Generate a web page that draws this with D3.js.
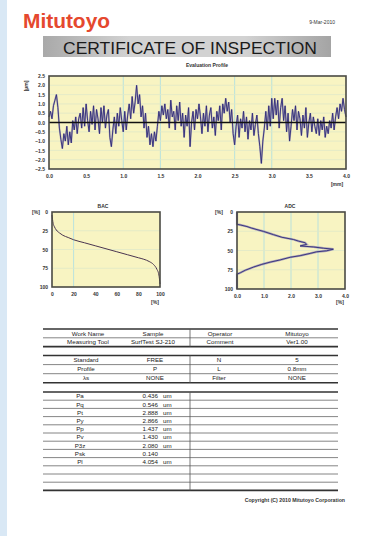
<!DOCTYPE html>
<html>
<head>
<meta charset="utf-8">
<script src="https://cdn.jsdelivr.net/npm/d3@7"></script>
<style>
  body { margin: 0; background: #fff; }
  svg { display: block; font-family: "Liberation Sans", Arial, sans-serif; }
</style>
</head>
<body>
<div id="chart"></div>
<script>
// ---- data ----
// evaluation profile heights [um], evenly spaced over 0..4 mm
const profile = [
  0.3, 0.6, 0.2, 0.9, 1.2, 1.5, 0.8, -0.3, -0.9, -1.4, -0.6,
  -1.0, -0.2, -1.2, -0.5, -1.1, 0.1, -0.4, 0.3, -0.6, 0.2,
  0.5, -0.3, 0.8, -0.2, 1.0, 0.1, -0.5, 0.6, -0.1, 0.9,
  -0.4, 0.7, 0.2, -0.6, 0.8, 0.0, 0.9, -0.3, 0.4, 0.7,
  -0.8, -1.3, -0.4, 0.3, -0.6, 0.5, -0.2, 0.8, 0.1, -0.5,
  0.6, -0.4, 0.4, 1.0, 0.2, 1.4, 0.5, 1.1, 2.0, 1.0,
  1.5, 0.3, 0.9, -0.3, 0.5, -0.8, -0.2, -1.2, -0.6, -1.3,
  -0.5, -1.0, -0.2, 0.6, 0.1, 0.9, 0.4, 1.0, 0.2, 0.7,
  -0.3, 1.2, 0.3, 0.6, -0.4, 0.9, 0.1, 1.1, -0.2, 0.5,
  -0.8, 0.4, -0.2, 0.8, -1.3, 0.0, 0.6, -0.4, 0.7, 0.2,
  1.0, 0.3, -0.6, 0.5, -0.2, 0.9, -0.5, 0.4, 0.8, -0.3,
  0.3, -0.7, 0.6, 0.1, 0.9, -0.4, 1.0, 0.5, 1.3, 0.6,
  1.1, 0.0, 0.7, -0.6, -1.2, -0.2, 0.4, -0.8, 0.2, -0.3,
  0.6, -0.5, 0.3, -0.9, 0.1, -0.4, 0.5, -0.7, -0.1, 0.4,
  -0.6, -1.3, -2.2, -1.0, -0.3, 0.6, -0.4, 0.9, -0.2, 1.3,
  0.2, 1.3, 0.4, 1.2, -0.3, 0.8, 1.3, 0.1, 0.9, -0.5,
  0.5, -1.0, -0.2, 0.7, 0.1, 0.9, -0.4, 0.6, 0.2, -0.7,
  0.4, -0.3, 0.8, -0.8, 0.0, 0.5, -0.5, 0.3, -0.2, -0.6,
  0.2, -0.7, 0.1, -0.4, 0.3, -0.8, -0.2, -0.6, 0.1, -0.3,
  0.5, -0.4, 0.3, 0.8, 0.2, 1.0, 0.6, 1.3, 0.7, 0.3
];
const profileXTicks = [0, 0.5, 1, 1.5, 2, 2.5, 3, 3.5, 4];
const profileYTicks = [2.5, 2, 1.5, 1, 0.5, 0, -0.5, -1, -1.5, -2, -2.5];

// bearing area curve (x: bearing ratio %, y: depth %)
const bacX = [0, 0.5, 1, 2, 4, 7, 10, 15, 20, 30, 40, 50, 60, 70, 80, 85, 90, 94, 97, 99, 100];
const bacY = [4, 10, 15, 19, 24, 28, 31, 34, 37, 41, 45, 49, 53, 57, 61, 63, 66, 70, 76, 84, 96];
const bacXTicks = [0, 20, 40, 60, 80, 100];
const bacYTicks = [0, 25, 50, 75, 100];

// amplitude distribution curve (x: density %, y: depth %)
const adcY = [0, 16, 16.8, 18.9, 21, 25.2, 29.4, 32.8, 35.7, 37.8, 39.9, 42, 44.1, 45.4, 47, 48.3, 50.4, 51.7, 53.8, 56.7, 58.8, 62.2, 65.1, 68, 71.4, 75.6, 79, 80.7, 100];
const adcX = [0, 0, 0.12, 0.37, 0.55, 0.98, 1.35, 1.66, 2.09, 2.28, 2.52, 2.58, 2.34, 2.83, 3.2, 3.57, 3.32, 2.95, 2.71, 2.34, 1.97, 1.6, 1.23, 0.92, 0.62, 0.31, 0.12, 0, 0];
const adcXTicks = [0, 1, 2, 3, 4];
const adcYTicks = [0, 25, 50, 75, 100];

// table contents
const infoRows = [
  ["Work Name", "Sample", "Operator", "Mitutoyo"],
  ["Measuring Tool", "SurfTest SJ-210", "Comment", "Ver1.00"]
];
const condRows = [
  ["Standard", "FREE", "N", "5"],
  ["Profile", "P", "L", "0.8mm"],
  ["λs", "NONE", "Filter", "NONE"]
];
const paramNames = ["Pa", "Pq", "Pt", "Py", "Pp", "Pv", "P3z", "Psk", "Pl"];
const paramValues = ["0.436", "0.546", "2.888", "2.866", "1.437", "1.430", "2.080", "0.140", "4.054"];
const paramUnits = ["um", "um", "um", "um", "um", "um", "um", "", "um"];

// ---- drawing ----
const W = 375, H = 536;
const svg = d3.select('#chart').append('svg')
  .attr('width', W)
  .attr('height', H);

const defs = svg.append('defs');
const grad = defs.append('linearGradient').attr('id', 'bar');
grad.append('stop').attr('offset', '0%').attr('stop-color', '#a9a9a9');
grad.append('stop').attr('offset', '30%').attr('stop-color', '#d2d2d2');
grad.append('stop').attr('offset', '70%').attr('stop-color', '#d2d2d2');
grad.append('stop').attr('offset', '100%').attr('stop-color', '#a4a4a4');

// page edge (photo background)
svg.append('rect').attr('x', 0).attr('y', 0).attr('width', 7).attr('height', H).attr('fill', '#d9e8f5');

// header
svg.append('text')
  .attr('x', 23).attr('y', 28)
  .attr('font-size', 20).attr('font-weight', 'bold')
  .attr('fill', '#e5482e')
  .attr('textLength', 87).attr('lengthAdjust', 'spacingAndGlyphs')
  .text('Mitutoyo');

svg.append('text')
  .attr('x', 335).attr('y', 24)
  .attr('text-anchor', 'end')
  .attr('font-size', 5).attr('fill', '#333')
  .text('9-Mar-2010');

svg.append('rect')
  .attr('x', 43).attr('y', 36).attr('width', 288).attr('height', 21)
  .attr('fill', 'url(#bar)');

svg.append('text')
  .attr('x', 63).attr('y', 53.5)
  .attr('font-size', 17).attr('fill', '#1a1a1a')
  .attr('textLength', 254).attr('lengthAdjust', 'spacingAndGlyphs')
  .text('CERTIFICATE OF INSPECTION');

// generic framed plot
function plotFrame(x0, x1, y0, y1, xScale, yScale, xTicks, yTicks, xFmt, yFmt, vGrid, hGrid) {
  const g = svg.append('g');
  g.append('rect')
    .attr('x', x0).attr('y', y0).attr('width', x1 - x0).attr('height', y1 - y0)
    .attr('fill', '#f8f4c2');

  g.selectAll('.vg').data(vGrid).enter().append('line')
    .attr('x1', d => xScale(d)).attr('x2', d => xScale(d))
    .attr('y1', y0).attr('y2', y1)
    .attr('stroke', '#a9dde3').attr('stroke-width', 0.8);

  g.selectAll('.hg').data(hGrid).enter().append('line')
    .attr('x1', x0).attr('x2', x1)
    .attr('y1', d => yScale(d)).attr('y2', d => yScale(d))
    .attr('stroke', '#dfe9c8').attr('stroke-width', 0.8);

  const xAxis = d3.axisBottom(xScale).tickValues(xTicks).tickFormat(xFmt).tickSize(0).tickPadding(5);
  const yAxis = d3.axisLeft(yScale).tickValues(yTicks).tickFormat(yFmt).tickSize(0).tickPadding(4);

  const xg = g.append('g').attr('transform', 'translate(0,' + y1 + ')').call(xAxis);
  const yg = g.append('g').attr('transform', 'translate(' + x0 + ',0)').call(yAxis);
  [xg, yg].forEach(a => {
    a.select('.domain').remove();
    a.selectAll('text')
      .attr('font-size', 5).attr('font-weight', 'bold')
      .attr('fill', '#333').attr('font-family', '"Liberation Sans", Arial, sans-serif');
  });
  return g;
}

function border(g, x0, x1, y0, y1) {
  g.append('rect')
    .attr('x', x0).attr('y', y0).attr('width', x1 - x0).attr('height', y1 - y0)
    .attr('fill', 'none').attr('stroke', '#4a4a44').attr('stroke-width', 1.6);
}

function label(x, y, t, opts) {
  const el = svg.append('text')
    .attr('x', x).attr('y', y)
    .attr('font-size', (opts && opts.size) || 5)
    .attr('font-weight', 'bold')
    .attr('fill', '#333')
    .attr('text-anchor', (opts && opts.anchor) || 'middle')
    .text(t);
  if (opts && opts.rotate) el.attr('transform', 'rotate(-90,' + x + ',' + y + ')');
  return el;
}

// ---- evaluation profile ----
{
  const x0 = 49, x1 = 346, y0 = 76, y1 = 169;
  const xs = d3.scaleLinear().domain([0, 4]).range([x0, x1]);
  const ys = d3.scaleLinear().domain([-2.5, 2.5]).range([y1, y0]);
  const g = plotFrame(x0, x1, y0, y1, xs, ys, profileXTicks, profileYTicks,
    d3.format('.1f'), d3.format('.1f'), [1, 1.5, 2.5, 3], [2, 1.5, 1, 0.5, -0.5, -1, -1.5, -2]);

  const line = d3.line()
    .x((d, i) => xs(i * 4 / (profile.length - 1)))
    .y(d => ys(d));

  g.append('path').datum(profile)
    .attr('d', line)
    .attr('fill', 'none')
    .attr('stroke', '#8a82b0').attr('stroke-width', 1.8).attr('stroke-opacity', 0.6);
  g.append('path').datum(profile)
    .attr('d', line)
    .attr('fill', 'none')
    .attr('stroke', '#2f2a78').attr('stroke-width', 0.9);

  g.append('line')
    .attr('x1', x0).attr('x2', x1)
    .attr('y1', ys(0)).attr('y2', ys(0))
    .attr('stroke', '#111').attr('stroke-width', 1.4);

  border(g, x0, x1, y0, y1);
  label(207, 67, 'Evaluation Profile');
  label(28, 86, '[µm]', { rotate: true });
  label(337, 186, '[mm]');
}

// ---- BAC ----
{
  const x0 = 52, x1 = 160, y0 = 212, y1 = 287;
  const xs = d3.scaleLinear().domain([0, 100]).range([x0, x1]);
  const ys = d3.scaleLinear().domain([0, 100]).range([y0, y1]);
  const g = plotFrame(x0, x1, y0, y1, xs, ys, bacXTicks, bacYTicks,
    d3.format('d'), d3.format('d'), [20], [25, 50, 75]);

  const line = d3.line()
    .x((d, i) => xs(bacX[i]))
    .y(d => ys(d))
    .curve(d3.curveMonotoneX);

  g.append('path').datum(bacY)
    .attr('d', line)
    .attr('fill', 'none')
    .attr('stroke', '#4a3550').attr('stroke-width', 1);

  border(g, x0, x1, y0, y1);
  label(103, 208, 'BAC');
  label(36, 214, '[%]');
  label(155, 304, '[%]');
}

// ---- ADC ----
{
  const x0 = 237, x1 = 345, y0 = 212, y1 = 289;
  const xs = d3.scaleLinear().domain([0, 4]).range([x0, x1]);
  const ys = d3.scaleLinear().domain([0, 100]).range([y0, y1]);
  const g = plotFrame(x0, x1, y0, y1, xs, ys, adcXTicks, adcYTicks,
    d3.format('.1f'), d3.format('d'), [1, 2, 3], [25, 50, 75]);

  const line = d3.line()
    .x((d, i) => xs(adcX[i]))
    .y(d => ys(d));

  g.append('path').datum(adcY)
    .attr('d', line)
    .attr('fill', 'none')
    .attr('stroke', '#8a82b0').attr('stroke-width', 2.2).attr('stroke-opacity', 0.7);
  g.append('path').datum(adcY)
    .attr('d', line)
    .attr('fill', 'none')
    .attr('stroke', '#2f2a78').attr('stroke-width', 0.9);

  border(g, x0, x1, y0, y1);
  label(290, 208, 'ADC');
  label(219, 214, '[%]');
  label(340, 304, '[%]');
}

// ---- table ----
{
  const tx0 = 43, tx1 = 338, mid = 190;
  const colX = [88, 153, 220, 297];
  const tg = svg.append('g').attr('font-size', 6.2).attr('fill', '#222');

  function hline(y, thick) {
    tg.append('line')
      .attr('x1', tx0).attr('x2', tx1).attr('y1', y).attr('y2', y)
      .attr('stroke', thick ? '#333' : '#666')
      .attr('stroke-width', thick ? 1.6 : 0.8);
  }
  function vline(ya, yb) {
    tg.append('line')
      .attr('x1', mid).attr('x2', mid).attr('y1', ya).attr('y2', yb)
      .attr('stroke', '#555').attr('stroke-width', 0.8);
  }
  function rowBlock(rows, top, rowH, centers) {
    hline(top, true);
    rows.forEach((r, i) => {
      const yc = top + rowH * (i + 0.5);
      r.forEach((t, j) => {
        tg.append('text')
          .attr('x', centers[j]).attr('y', yc + 2.2)
          .attr('text-anchor', 'middle')
          .text(t);
      });
      hline(top + rowH * (i + 1), i === rows.length - 1);
    });
    vline(top, top + rowH * rows.length);
  }

  rowBlock(infoRows, 329, 8.8, colX);
  rowBlock(condRows, 355.5, 9.1, [86, 155, 219, 297]);

  // parameters block
  const pTop = 392, pRowH = 8.2, nRows = 12;
  hline(pTop, true);
  for (let i = 0; i < nRows; i++) {
    hline(pTop + pRowH * (i + 1), i === nRows - 1);
  }
  vline(pTop, pTop + pRowH * nRows);
  paramNames.forEach((n, i) => {
    const yc = pTop + pRowH * (i + 0.5) + 2.2;
    tg.append('text').attr('x', 80).attr('y', yc).attr('text-anchor', 'middle').text(n);
    tg.append('text').attr('x', 158).attr('y', yc).attr('text-anchor', 'end').text(paramValues[i]);
    tg.append('text').attr('x', 163).attr('y', yc).attr('text-anchor', 'start').text(paramUnits[i]);
  });
}

svg.append('text')
  .attr('x', 345).attr('y', 502)
  .attr('text-anchor', 'end')
  .attr('font-size', 5.2).attr('font-weight', 'bold').attr('fill', '#333')
  .text('Copyright (C) 2010 Mitutoyo Corporation');
</script>
</body>
</html>
